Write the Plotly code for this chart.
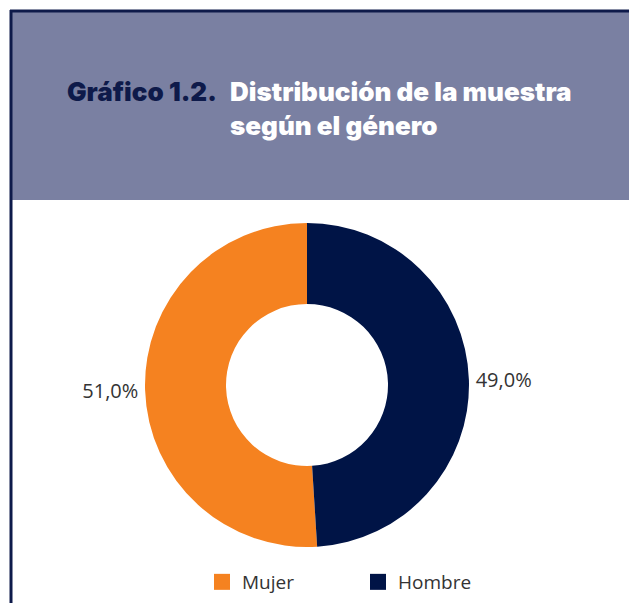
import plotly.graph_objects as go

# datos
generos = ["Mujer", "Hombre"]
porcentajes = [51.0, 49.0]
etiquetas = ["51,0%", "49,0%"]
colores = ["#f58220", "#001446"]

W, H = 629, 603

# Mujer termina en las 12: empieza donde acaba Hombre
giro = 360 * porcentajes[1] / sum(porcentajes)

fig = go.Figure()

fig.add_trace(
    go.Pie(
        labels=generos,
        values=porcentajes,
        text=etiquetas,
        textinfo="text",
        textposition="outside",
        hole=0.5,
        sort=False,
        direction="clockwise",
        rotation=giro,
        marker=dict(colors=colores, line=dict(width=0)),
        outsidetextfont=dict(family="Open Sans", size=20, color="#333333"),
        domain=dict(x=[145 / W, 469 / W], y=[1 - 547 / H, 1 - 223 / H]),
        hoverinfo="label+percent",
        showlegend=False,
    )
)

# leyenda con cuadrados mas grandes
for nombre, color in zip(generos, colores):
    fig.add_trace(
        go.Scatter(
            x=[None],
            y=[None],
            mode="markers",
            name=nombre,
            marker=dict(symbol="square", size=16, color=color),
        )
    )

# cabecera
fig.add_shape(type="rect", xref="paper", yref="paper",
              x0=12 / W, x1=1, y0=1 - 200 / H, y1=1 - 12 / H,
              fillcolor="#7a80a2", line=dict(width=0), layer="below")
# bordes
fig.add_shape(type="line", xref="paper", yref="paper",
              x0=11 / W, x1=11 / W, y0=0, y1=1 - 10 / H,
              line=dict(color="#0e1a4a", width=3))
fig.add_shape(type="line", xref="paper", yref="paper",
              x0=10 / W, x1=1, y0=1 - 11 / H, y1=1 - 11 / H,
              line=dict(color="#0e1a4a", width=3))

# titulo
fig.add_annotation(text="Gráfico 1.2.", xref="paper", yref="paper",
                   x=65 / W, y=1 - 74 / H, xanchor="left", yanchor="top",
                   showarrow=False,
                   font=dict(family="Inter", size=26, weight=900, color="#0e1a4a"))
fig.add_annotation(text="Distribución de la muestra<br>según el género",
                   xref="paper", yref="paper",
                   x=228 / W, y=1 - 74 / H, xanchor="left", yanchor="top",
                   align="left", showarrow=False,
                   font=dict(family="Inter", size=26, weight=900, color="white"))

fig.update_layout(
    width=W,
    height=H,
    margin=dict(l=0, r=0, t=0, b=0),
    paper_bgcolor="white",
    plot_bgcolor="white",
    xaxis=dict(visible=False),
    yaxis=dict(visible=False),
    showlegend=True,
    legend=dict(
        orientation="h",
        x=202 / W,
        xanchor="left",
        y=1 - 563 / H,
        yanchor="top",
        entrywidth=111,
        font=dict(family="Open Sans", size=19, color="#333333"),
    ),
)

fig.write_html(
    "out.html",
    config={"displayModeBar": False},
    post_script="document.body.style.margin='0';document.body.style.overflow='hidden';",
)
